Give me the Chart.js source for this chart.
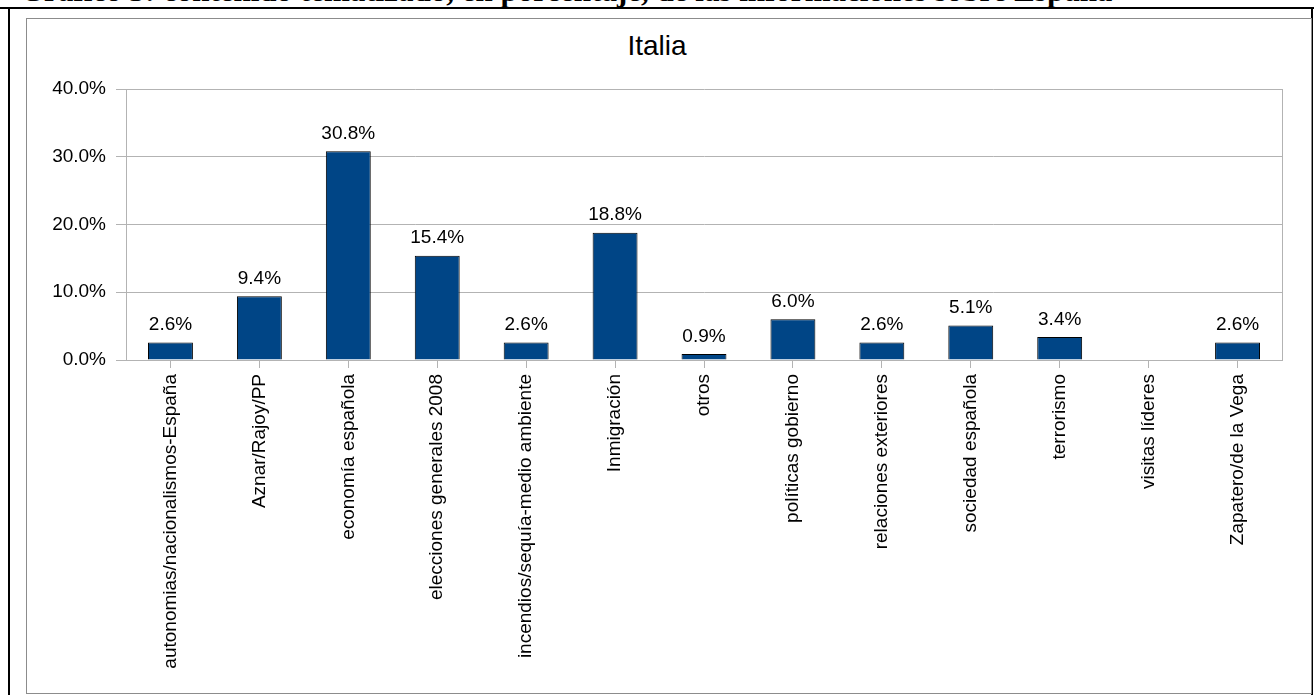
<!DOCTYPE html>
<html>
<head>
<meta charset="utf-8">
<script src="https://cdn.jsdelivr.net/npm/chart.js@4/dist/chart.umd.min.js"></script>
<style>
  html, body { margin: 0; padding: 0; background: #fff; width: 1314px; height: 695px; overflow: hidden; }
  #hdr { position: absolute; left: 0; top: 0; width: 1314px; height: 7px; overflow: hidden; }
  #hdr span { position: absolute; left: 20px; top: -25px; font: bold 31px/31px "Liberation Serif", serif; white-space: nowrap; color: #000; }
  .blk { position: absolute; background: #000; }
  #gbox { position: absolute; left: 26px; top: 18px; width: 1284px; height: 674px; border: 1px solid #8c8c8c; box-sizing: content-box; }
  #ttl { position: absolute; left: 0; width: 1314px; top: 30px; text-align: center; font: 28px "Liberation Sans", Arial, sans-serif; color: #000; }
  #c { position: absolute; left: 0; top: 0; }
</style>
</head>
<body>
<div id="hdr"><span>Gráfico 3: contenido tematizado, en porcentaje, de las informaciones sobre España</span></div>
<div class="blk" style="left:0;top:7px;width:1314px;height:2px"></div>
<div class="blk" style="left:8px;top:7px;width:2px;height:688px"></div>
<div class="blk" style="left:1311px;top:7px;width:2px;height:688px"></div>
<div id="gbox"></div>
<div id="ttl">Italia</div>
<canvas id="c" width="1314" height="695"></canvas>
<script>
const categories = [
  "autonomias/nacionalismos-España",
  "Aznar/Rajoy/PP",
  "economía española",
  "elecciones generales 2008",
  "incendios/sequía-medio ambiente",
  "Inmigración",
  "otros",
  "políticas gobierno",
  "relaciones exteriores",
  "sociedad española",
  "terrorismo",
  "visitas líderes",
  "Zapatero/de la Vega"
];
const values = [2.6, 9.4, 30.8, 15.4, 2.6, 18.8, 0.9, 6.0, 2.6, 5.1, 3.4, null, 2.6];
const yTicks = [0, 10, 20, 30, 40];

const FONT = '"Liberation Sans", Arial, sans-serif';

const frame = {
  id: 'frame',
  afterDraw(chart) {
    const a = chart.chartArea, ctx = chart.ctx;
    ctx.save();
    ctx.strokeStyle = '#b3b3b3';
    ctx.lineWidth = 1;
    ctx.beginPath();
    ctx.moveTo(Math.round(a.right) + 0.5, a.top);
    ctx.lineTo(Math.round(a.right) + 0.5, a.bottom);
    ctx.stroke();
    ctx.restore();
  }
};

const labels = {
  id: 'vlabels',
  afterDatasetsDraw(chart) {
    const ctx = chart.ctx;
    const meta = chart.getDatasetMeta(0);
    ctx.save();
    ctx.font = '19px ' + FONT;
    ctx.fillStyle = '#000';
    ctx.textAlign = 'center';
    ctx.textBaseline = 'bottom';
    meta.data.forEach((bar, i) => {
      const v = values[i];
      if (v === null || v === undefined) return;
      ctx.fillText(v.toFixed(1) + '%', bar.x, bar.y - 8);
    });
    ctx.restore();
  }
};

new Chart(document.getElementById('c'), {
  type: 'bar',
  data: {
    labels: categories,
    datasets: [{
      data: values,
      backgroundColor: '#004586',
      borderColor: '#000',
      borderWidth: 1,
      categoryPercentage: 1,
      barPercentage: 0.505
    }]
  },
  options: {
    responsive: false,
    animation: false,
    devicePixelRatio: 1,
    layout: { padding: { top: 89, right: 32, left: 0, bottom: 0 } },
    plugins: { legend: { display: false }, tooltip: { enabled: false }, title: { display: false } },
    scales: {
      x: {
        grid: { display: true, drawOnChartArea: false, offset: false, tickLength: 8, color: '#b3b3b3' },
        border: { display: true, color: '#b3b3b3' },
        ticks: { minRotation: 90, maxRotation: 90, autoSkip: false, padding: 6, color: '#000', font: { family: FONT, size: 19 } },
        afterFit(scale) { scale.height = 335; }
      },
      y: {
        min: 0, max: 40,
        afterBuildTicks(scale) { scale.ticks = yTicks.map(v => ({ value: v })); },
        grid: { color: '#b3b3b3', tickLength: 10 },
        border: { display: true, color: '#b3b3b3' },
        ticks: { padding: 10, color: '#000', font: { family: FONT, size: 19 }, callback: v => v.toFixed(1) + '%' },
        afterFit(scale) { scale.width = 126; }
      }
    }
  },
  plugins: [frame, labels]
});
</script>
</body>
</html>
